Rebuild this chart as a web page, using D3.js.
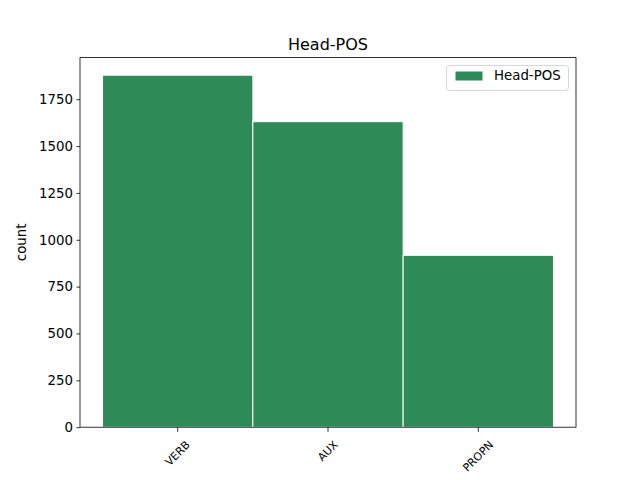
<!DOCTYPE html>
<html><head><meta charset="utf-8">
<script src="https://cdn.jsdelivr.net/npm/d3@7"></script>
<style>body{margin:0;background:#fff}svg{display:block;font-family:"DejaVu Sans",sans-serif}</style>
</head><body>
<script>
const categories = ["VERB", "AUX", "PROPN"];
const counts = [1878, 1630, 917];
const yTicks = [0, 250, 500, 750, 1000, 1250, 1500, 1750];
const seriesName = "Head-POS";
const title = "Head-POS";
const yLabel = "count";

const W = 640, H = 480;
const m = {left: 80, right: 64, top: 57.6, bottom: 52.8};
const svg = d3.select("body").append("svg").attr("width", W).attr("height", H);
const x = d3.scaleBand().domain(categories).range([m.left, W - m.right]).paddingInner(0).paddingOuter(0.15);
const yMax = d3.max(counts) * 1.05;
const y = d3.scaleLinear().domain([0, yMax]).range([H - m.bottom, m.top]);

svg.append("g").selectAll("rect").data(categories).join("rect")
  .attr("x", d => x(d)).attr("width", x.bandwidth())
  .attr("y", (d, i) => y(counts[i])).attr("height", (d, i) => y(0) - y(counts[i]))
  .attr("fill", "#2e8b57").attr("stroke", "#fff").attr("stroke-width", 1);

const fs = "13.33px";
const yAxis = svg.append("g").attr("transform", `translate(${m.left},0)`)
  .call(d3.axisLeft(y).tickValues(yTicks).tickSize(3.5).tickPadding(3.5).tickFormat(d3.format("d")));
const xAxis = svg.append("g").attr("transform", `translate(0,${H - m.bottom})`)
  .call(d3.axisBottom(x).tickSize(4.67).tickPadding(3.5));
[yAxis, xAxis].forEach(a => {
  a.select(".domain").remove();
  a.selectAll("line").attr("stroke", "#000").attr("stroke-width", 0.8);
  a.selectAll("text").attr("fill", "#000").style("font-size", fs).style("font-family", "DejaVu Sans");
});
xAxis.selectAll("text")
  .style("font-size", "11px")
  .attr("text-anchor", "middle").attr("dy", null).attr("y", 0)
  .attr("dominant-baseline", "central")
  .attr("transform", function(){
    const L = this.getComputedTextLength();
    const h = 8;
    const half = (L + h) * 0.7071 / 2;
    return `translate(0,${13 + half}) rotate(-45)`;
  });

svg.append("rect").attr("x", m.left).attr("y", m.top)
  .attr("width", W - m.left - m.right).attr("height", H - m.top - m.bottom)
  .attr("fill", "none").attr("stroke", "#000").attr("stroke-width", 0.8);

svg.append("text").attr("x", (m.left + W - m.right) / 2).attr("y", m.top - 8)
  .attr("text-anchor", "middle").style("font-size", "16px").text(title);
svg.append("text").attr("transform", `translate(26,${(m.top + H - m.bottom) / 2}) rotate(-90)`)
  .attr("text-anchor", "middle").style("font-size", fs).text(yLabel);

const lg = svg.append("g");
lg.append("rect").attr("x", 446.5).attr("y", 65.5).attr("width", 122).attr("height", 25).attr("rx", 3)
  .attr("fill", "#fff").attr("fill-opacity", 0.8).attr("stroke", "#ccc").attr("stroke-width", 0.8);
lg.append("rect").attr("x", 455).attr("y", 71).attr("width", 28).attr("height", 10)
  .attr("fill", "#2e8b57").attr("stroke", "#fff").attr("stroke-width", 1);
lg.append("text").attr("x", 494).attr("y", 76).attr("dominant-baseline", "middle")
  .style("font-size", fs).text(seriesName);
</script>
</body></html>
